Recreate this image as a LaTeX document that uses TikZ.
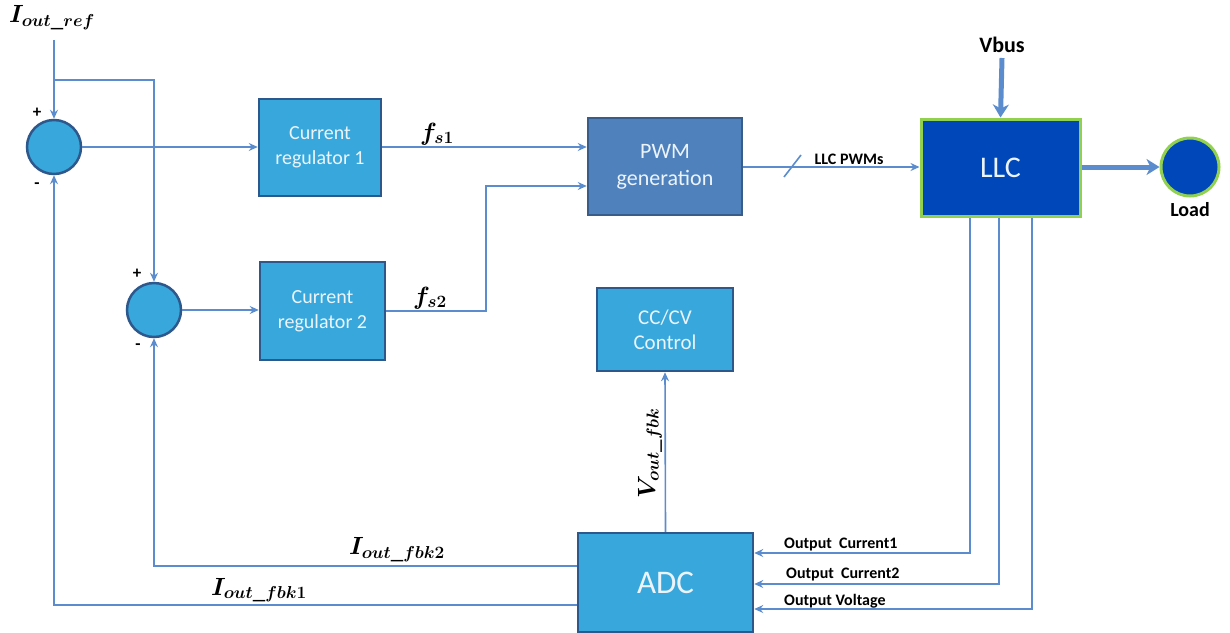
\documentclass[tikz,border=0pt]{standalone}
\usepackage{fontspec}
\setmainfont{Carlito}
\usetikzlibrary{arrows.meta,calc}

\definecolor{boxfill}{RGB}{56,168,220}
\definecolor{boxedge}{RGB}{46,88,140}
\definecolor{pwmfill}{RGB}{79,129,189}
\definecolor{pwmedge}{RGB}{56,93,138}
\definecolor{llcfill}{RGB}{0,72,186}
\definecolor{llcedge}{RGB}{146,208,80}
\definecolor{wire}{RGB}{91,140,205}
\definecolor{boxtext}{RGB}{236,244,250}

\tikzset{
  block/.style={draw=boxedge, fill=boxfill, line width=2.5pt, inner sep=0pt,
    align=center, text=boxtext, font=\fontsize{20}{25}\selectfont},
  pwmblock/.style={block, draw=pwmedge, fill=pwmfill, font=\fontsize{22}{27}\selectfont},
  llcblock/.style={draw=llcedge, fill=llcfill, line width=3pt, inner sep=0pt,
    text=boxtext, font=\fontsize{30}{34}\selectfont},
  summer/.style={circle, draw=boxedge, fill=boxfill, line width=2.5pt,
    minimum size=54pt, inner sep=0pt},
  wireline/.style={draw=wire, line width=1.6pt},
  sig/.style={wireline, -{Stealth[length=9pt,width=8pt,inset=3pt]}},
  power/.style={draw=wire, line width=5pt, -{Stealth[length=13pt,width=16pt,inset=4pt]}},
  mlabel/.style={inner sep=0pt, font=\fontsize{25}{27}\selectfont\boldmath},
  blabel/.style={inner sep=0pt, font=\fontsize{16}{18}\selectfont\bfseries},
  pm/.style={inner sep=0pt, font=\fontsize{17}{18}\selectfont\bfseries},
}

\begin{document}
\begin{tikzpicture}[x=1pt, y=-1pt]
\useasboundingbox (0,0) rectangle (1230,632);

% summing junctions
\node[summer] (sum1) at (54,147) {};
\node[summer] (sum2) at (154,310) {};

% blocks
\node[block, minimum width=122pt, minimum height=97pt] (cr1) at (320,147.5) {Current\\regulator 1};
\node[block, minimum width=125pt, minimum height=98pt] (cr2) at (322.5,311) {Current\\regulator 2};
\node[pwmblock, minimum width=154pt, minimum height=97pt] (pwm) at (665,166.5) {PWM\\generation};
\node[llcblock, minimum width=159pt, minimum height=97pt] (llc) at (1000.5,167.5) {LLC};
\node[circle, draw=llcedge, fill=llcfill, line width=3pt, minimum size=58pt, inner sep=0pt] (load) at (1190,167) {};
\node[block, minimum width=136pt, minimum height=83pt, font=\fontsize{21}{25}\selectfont] (cccv) at (665,329.5) {CC/CV\\Control};
\node[block, minimum width=175pt, minimum height=99pt, font=\fontsize{33}{36}\selectfont] (adc) at (665.5,582.5) {ADC};

% texts
\node[mlabel] (iref) at (52,18) {$I_{out\_ref}$};
\node[font=\fontsize{22}{24}\selectfont\bfseries, inner sep=0pt] (vbus) at (1002,45) {Vbus};
\node[font=\fontsize{20}{22}\selectfont\bfseries, inner sep=0pt] (loadtxt) at (1190,210) {Load};
\node[mlabel] (fs1) at (437,134) {$f_{s1}$};
\node[mlabel] (fs2) at (430,298) {$f_{s2}$};
\node[blabel] (pwmtxt) at (849,159) {LLC PWMs};
\node[mlabel, rotate=90] (vfbk) at (650,453) {$V_{out\_fbk}$};
\node[mlabel] (ifbk2) at (397,550) {$I_{out\_fbk2}$};
\node[mlabel] (ifbk1) at (259,590) {$I_{out\_fbk1}$};
\node[blabel, anchor=west] (oc1) at (784,545) {Output\ \ Current1};
\node[blabel, anchor=west] (oc2) at (786,575) {Output\ \ Current2};
\node[blabel, anchor=west] (ov) at (784,601) {Output Voltage};
\node[pm] (p1) at (37,113) {+};
\node[pm] (m1) at (37,186) {-};
\node[pm] (p2) at (137,274) {+};
\node[pm] (m2) at (138,347) {-};

% routing points
\coordinate (refin) at (54,40);
\coordinate (branch) at (54,80);
\coordinate (bend2) at (486,311);
\coordinate (slashA) at (784,177);
\coordinate (slashB) at (801,155);
\coordinate (t1) at (970,553);
\coordinate (t2) at (999,584);
\coordinate (t3) at (1032,609);
\coordinate (f2) at (154,566);
\coordinate (f1) at (54,605);

% reference path
\draw[sig] (refin) -- (sum1.north);
\draw[sig] (branch) -- (branch -| sum2) -- (sum2.north);

% forward path
\draw[sig] (sum1.east) -- (sum1.east -| cr1.west);
\draw[sig] (sum2.east) -- (sum2.east -| cr2.west);
\draw[sig] (cr1.east |- 0,147) -- (pwm.west |- 0,147);
\draw[sig] (cr2.east |- bend2) -- (bend2) -- (bend2 |- 0,186) -- (pwm.west |- 0,186);
\draw[sig] (pwm.east |- 0,167) -- (llc.west |- 0,167);
\draw[wireline] (slashA) -- (slashB);
\draw[power] (vbus.south) ++(0,5) -- (llc.north);
\draw[power] (llc.east |- load) -- (load.west);

% measurement path
\draw[sig] (llc.south -| t1) -- (t1) -- (t1 -| adc.east);
\draw[sig] (llc.south -| t2) -- (t2) -- (t2 -| adc.east);
\draw[sig] (llc.south -| t3) -- (t3) -- (t3 -| adc.east);
\draw[sig] (adc.north) -- (cccv.south);

% feedback path
\draw[sig] (adc.west |- f2) -- (f2) -- (sum2.south);
\draw[sig] (adc.west |- f1) -- (f1) -- (sum1.south);
\end{tikzpicture}
\end{document}
